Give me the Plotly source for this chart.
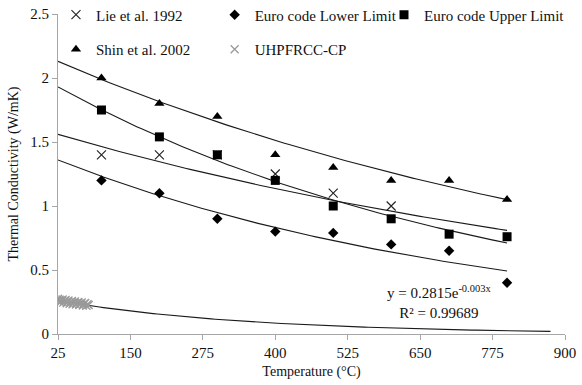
import numpy as np
import plotly.graph_objects as go

# ---- data ----
temps = [100, 200, 300, 400, 500, 600, 700, 800]
lie_T = [100, 200, 300, 400, 500, 600]
lie_k = [1.40, 1.40, 1.40, 1.25, 1.10, 1.00]
euro_lower = [1.20, 1.10, 0.90, 0.80, 0.79, 0.70, 0.65, 0.40]
euro_upper = [1.75, 1.54, 1.40, 1.20, 1.00, 0.90, 0.78, 0.76]
shin = [2.00, 1.80, 1.70, 1.40, 1.30, 1.20, 1.20, 1.05]
uh_T = [25, 26, 28, 29, 31, 33, 34, 36, 38, 40, 41, 43, 45, 47, 49,
        50, 52, 54, 56, 58, 60, 62, 64, 66, 68, 70, 72, 74, 76, 78]
uh_k = [0.275, 0.255, 0.268, 0.248, 0.262, 0.270, 0.245, 0.258, 0.266, 0.240,
        0.252, 0.262, 0.236, 0.250, 0.258, 0.232, 0.246, 0.255, 0.230, 0.243,
        0.250, 0.226, 0.240, 0.246, 0.222, 0.236, 0.242, 0.220, 0.232, 0.226]

# exponential trend lines y = a*exp(b*x) (coefficients)
trend_names = ["Lie", "Lower", "Upper", "Shin", "UHPFRCC"]
trend_a = [1.593, 1.405, 1.993, 2.179, 0.2815]
trend_b = [-0.000846, -0.001312, -0.001288, -0.000913, -0.003]
trend_x0 = [25, 25, 25, 25, 25]
trend_x1 = [800, 800, 800, 800, 875]

x_ticks = [25, 150, 275, 400, 525, 650, 775, 900]

FONT = "Liberation Serif"
fig = go.Figure()

for a, b, x0, x1 in zip(trend_a, trend_b, trend_x0, trend_x1):
    xs = np.linspace(x0, x1, 120)
    fig.add_trace(go.Scatter(x=xs, y=a * np.exp(b * xs), mode="lines",
                             line=dict(color="#1a1a1a", width=1.1),
                             showlegend=False, hoverinfo="skip"))

fig.add_trace(go.Scatter(x=lie_T, y=lie_k, mode="markers", name="Lie et al. 1992",
                         marker=dict(symbol="x-thin", size=9,
                                     line=dict(width=1.1, color="#222")),
                         legend="legend"))
fig.add_trace(go.Scatter(x=temps, y=euro_lower, mode="markers",
                         name="Euro code Lower Limit",
                         marker=dict(symbol="diamond", size=8, color="black"),
                         legend="legend2"))
fig.add_trace(go.Scatter(x=temps, y=euro_upper, mode="markers",
                         name="Euro code Upper Limit",
                         marker=dict(symbol="square", size=9, color="black"),
                         legend="legend3"))
fig.add_trace(go.Scatter(x=temps, y=shin, mode="markers", name="Shin et al. 2002",
                         marker=dict(symbol="triangle-up", size=9, color="black"),
                         legend="legend4"))
fig.add_trace(go.Scatter(x=uh_T, y=uh_k, mode="markers", name="UHPFRCC-CP",
                         marker=dict(symbol="x-thin", size=8,
                                     line=dict(width=1.3, color="#9a9a9a")),
                         legend="legend5"))

legend_common = dict(orientation="h", xanchor="left", yanchor="middle",
                     font=dict(family=FONT, size=15, color="#111"),
                     bgcolor="rgba(0,0,0,0)", itemwidth=30)

col_x = [-0.004, 0.309, 0.643]
row_y = [0.997, 0.889]

fig.update_layout(
    width=582, height=385,
    margin=dict(l=58, r=17, t=14, b=51, autoexpand=False),
    paper_bgcolor="white", plot_bgcolor="white",
    font=dict(family=FONT, size=15, color="#111"),
    legend=dict(x=col_x[0], y=row_y[0], **legend_common),
    legend2=dict(x=col_x[1], y=row_y[0], **legend_common),
    legend3=dict(x=col_x[2], y=row_y[0], **legend_common),
    legend4=dict(x=col_x[0], y=row_y[1], **legend_common),
    legend5=dict(x=col_x[1], y=row_y[1], **legend_common),
    xaxis=dict(range=[25, 900], tickvals=x_ticks, ticktext=[str(v) for v in x_ticks],
               showgrid=False, zeroline=False, showline=True, linecolor="#a6a6a6",
               linewidth=1, ticks="outside", ticklen=5, tickcolor="#a6a6a6",
               tickfont=dict(family=FONT, size=15, color="#111"),
               title=dict(text="Temperature (°C)", font=dict(family=FONT, size=14),
                          standoff=6)),
    yaxis=dict(range=[0, 2.5], dtick=0.5, tick0=0,
               showgrid=False, zeroline=False, showline=True, linecolor="#a6a6a6",
               linewidth=1, ticks="outside", ticklen=5, tickcolor="#a6a6a6",
               tickfont=dict(family=FONT, size=15, color="#111"),
               title=dict(text="Thermal Conductivity (W/mK)",
                          font=dict(family=FONT, size=14), standoff=8)),
    annotations=[dict(xref="x", yref="y", x=683, y=0.25,
                      text="y = 0.2815e<sup>-0.003x</sup><br>R² = 0.99689",
                      showarrow=False, align="center",
                      font=dict(family=FONT, size=15, color="#111"))],
)

fig.write_html("out.html")
